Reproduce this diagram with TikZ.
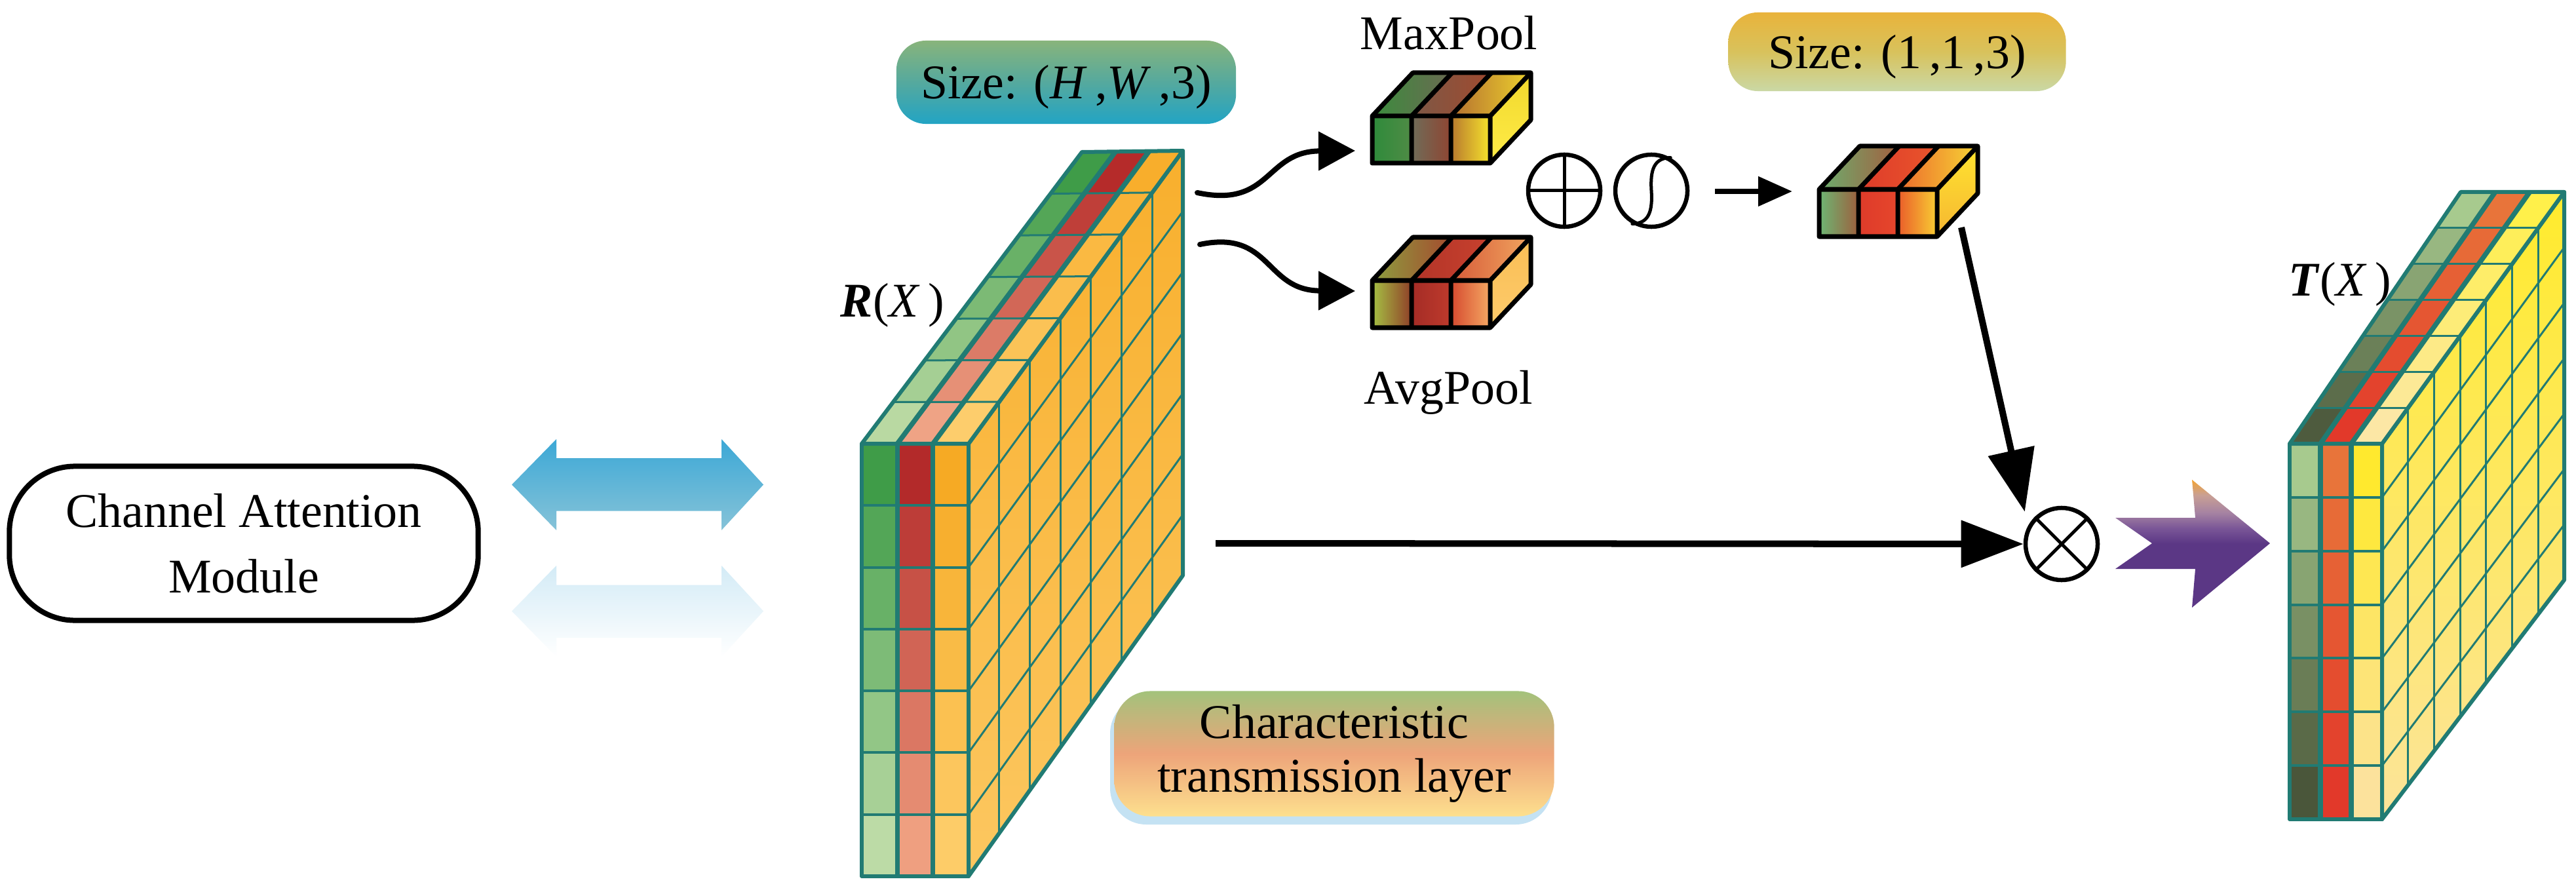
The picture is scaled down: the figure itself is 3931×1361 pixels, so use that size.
\documentclass[tikz,border=0pt]{standalone}
\usepackage{fontspec}
\setmainfont{Liberation Serif}
\usetikzlibrary{arrows.meta,calc}

\definecolor{tealL}{HTML}{217B73}
% left slab
\definecolor{Lf0t}{HTML}{3F9C48}\definecolor{Lf0b}{HTML}{BCDBA6}
\definecolor{Lf1t}{HTML}{B32A2A}\definecolor{Lf1b}{HTML}{EF9F80}
\definecolor{Lf2t}{HTML}{F6AA24}\definecolor{Lf2b}{HTML}{FDCC68}
\definecolor{Lt0f}{HTML}{B9D9A2}\definecolor{Lt0k}{HTML}{3F9C48}
\definecolor{Lt1f}{HTML}{EFA385}\definecolor{Lt1k}{HTML}{B52B2A}
\definecolor{Lt2f}{HTML}{FDCD6C}\definecolor{Lt2k}{HTML}{F8AE2C}
\definecolor{Lst}{HTML}{F8AF2D}\definecolor{Lsb}{HTML}{FCC760}
% right slab
\definecolor{Tf0t}{HTML}{A7CA8E}\definecolor{Tf0b}{HTML}{4A563A}
\definecolor{Tf1t}{HTML}{E8743A}\definecolor{Tf1b}{HTML}{E2392A}
\definecolor{Tf2t}{HTML}{FFE92E}\definecolor{Tf2b}{HTML}{FCE29C}
\definecolor{Tt0f}{HTML}{4E5B3E}\definecolor{Tt0k}{HTML}{A7CA8E}
\definecolor{Tt1f}{HTML}{E2392A}\definecolor{Tt1k}{HTML}{E8743A}
\definecolor{Tt2f}{HTML}{FCE7A5}\definecolor{Tt2k}{HTML}{FFF04A}
\definecolor{Tst}{HTML}{FFEB2C}\definecolor{Tsb}{HTML}{FCE49A}
% MaxPool cube
\definecolor{MPa1}{HTML}{2E8B3B}\definecolor{MPa2}{HTML}{4F8B45}
\definecolor{MPb1}{HTML}{6F6C58}\definecolor{MPb2}{HTML}{8F4532}
\definecolor{MPc1}{HTML}{B8782E}\definecolor{MPc2}{HTML}{F6E42C}
\definecolor{MPta1}{HTML}{3B8C3D}\definecolor{MPta2}{HTML}{6B6A52}
\definecolor{MPtb1}{HTML}{7D5846}\definecolor{MPtb2}{HTML}{A04A2F}
\definecolor{MPtc1}{HTML}{B5702F}\definecolor{MPtc2}{HTML}{EDD22E}
\definecolor{MPs1}{HTML}{F1D82C}\definecolor{MPs2}{HTML}{FFEC48}
% AvgPool cube
\definecolor{APa1}{HTML}{A6C144}\definecolor{APa2}{HTML}{8F3F28}
\definecolor{APb1}{HTML}{A42C26}\definecolor{APb2}{HTML}{BE3A2C}
\definecolor{APc1}{HTML}{D54A2F}\definecolor{APc2}{HTML}{F5A863}
\definecolor{APta1}{HTML}{8C9F3F}\definecolor{APta2}{HTML}{A54A2E}
\definecolor{APtb1}{HTML}{B23428}\definecolor{APtb2}{HTML}{C8412E}
\definecolor{APtc1}{HTML}{D65B39}\definecolor{APtc2}{HTML}{F1A55F}
\definecolor{APs1}{HTML}{FABE55}\definecolor{APs2}{HTML}{FDCB6B}
% result cube
\definecolor{RSa1}{HTML}{6DB774}\definecolor{RSa2}{HTML}{9D5F3D}
\definecolor{RSb1}{HTML}{DE3B2A}\definecolor{RSb2}{HTML}{E6462C}
\definecolor{RSc1}{HTML}{EA5C2A}\definecolor{RSc2}{HTML}{F9CE33}
\definecolor{RSta1}{HTML}{6CAE6E}\definecolor{RSta2}{HTML}{A35F3F}
\definecolor{RStb1}{HTML}{DE3C2A}\definecolor{RStb2}{HTML}{E9552C}
\definecolor{RStc1}{HTML}{EC6B2C}\definecolor{RStc2}{HTML}{F7D435}
\definecolor{RSs1}{HTML}{FFE52F}\definecolor{RSs2}{HTML}{F6B632}
% boxes and arrows
\definecolor{szAt}{HTML}{88B47B}\definecolor{szAm}{HTML}{55A99E}\definecolor{szAb}{HTML}{22A4C4}
\definecolor{szBt}{HTML}{E9B33B}\definecolor{szBm}{HTML}{D8C25C}\definecolor{szBb}{HTML}{CAD8A5}
\definecolor{chT}{HTML}{A3C27B}\definecolor{chM}{HTML}{EDA47A}\definecolor{chB}{HTML}{FDE08E}
\definecolor{chGlow}{HTML}{C4E2F3}
\definecolor{blT}{HTML}{3CA8D6}\definecolor{blB}{HTML}{86C3D8}
\definecolor{rfT}{HTML}{D3EBF6}
\definecolor{purB}{HTML}{5B3785}\definecolor{purC}{HTML}{7A5697}
\definecolor{purD}{HTML}{A582A2}\definecolor{purE}{HTML}{C9A094}
\definecolor{purT}{HTML}{F3A332}

\pgfdeclareverticalshading{purpsh}{100bp}{color(0bp)=(purB); color(50bp)=(purB); color(56bp)=(purC); color(62bp)=(purD); color(69bp)=(purE); color(75bp)=(purT); color(100bp)=(purT)}

\tikzset{
 gridthin/.style={draw=tealL,line width=0.03cm},
 gridrow/.style={draw=tealL,line width=0.04cm},
 gridsep/.style={draw=tealL,line width=0.075cm},
 gridout/.style={draw=tealL,line width=0.06cm,line join=round},
 cubeline/.style={draw=black,line width=0.07cm,line join=round},
 bigarr/.style={draw=black,line width=0.1cm,-{Triangle[length=0.95cm,width=0.7cm]}},
 curvarr/.style={draw=black,line width=0.08cm,line cap=round,-{Triangle[length=0.56cm,width=0.58cm]}},
 smallarr/.style={draw=black,line width=0.08cm,-{Triangle[length=0.52cm,width=0.44cm]}},
 opcirc/.style={circle,draw=black,line width=0.065cm,minimum size=1.1cm,inner sep=0pt},
 opline/.style={line width=0.05cm},
 lbl/.style={inner sep=0pt,anchor=base},
 szbox/.style={rounded corners=0.45cm,inner sep=0pt,text height=0.64cm,text depth=0.14cm},
}

\newcommand{\drawslab}[1]{%
 \foreach \i in {0,1,2,3}{%
  \coordinate (#1-fe-\i) at ($(#1-ftl)!\i/3!(#1-ftr)$);
  \coordinate (#1-be-\i) at ($(#1-btl)!\i/3!(#1-btr)$);
  \coordinate (#1-bf-\i) at ($(#1-fbl)!\i/3!(#1-fbr)$);
 }
 \foreach \i in {0,1,2,3}{\foreach \k in {0,...,7}{%
  \coordinate (#1-t-\i-\k) at ($(#1-fe-\i)!\k/7!(#1-be-\i)$);
  \coordinate (#1-f-\i-\k) at ($(#1-fe-\i)!\k/7!(#1-bf-\i)$);
 }}
 \shade[top color=#1st,bottom color=#1sb] (#1-ftr) -- (#1-btr) -- (#1-bbr) -- (#1-fbr) -- cycle;
 \foreach \k in {1,...,6}{\draw[gridthin] ($(#1-ftr)!\k/7!(#1-btr)$) -- ($(#1-fbr)!\k/7!(#1-bbr)$);}
 \foreach \k in {1,...,6}{\draw[gridthin] ($(#1-ftr)!\k/7!(#1-fbr)$) -- ($(#1-btr)!\k/7!(#1-bbr)$);}
 \draw[gridout] (#1-ftr) -- (#1-btr) -- (#1-bbr) -- (#1-fbr) -- cycle;
 \foreach \i [evaluate=\i as \ii using int(\i+1)] in {0,1,2}{%
  \foreach \k [evaluate=\k as \kk using int(\k+1), evaluate=\k as \pc using int(100*\k/6)] in {0,...,6}{%
   \colorlet{cellc}{#1t\i k!\pc!#1t\i f}%
   \fill[cellc] (#1-t-\i-\k) -- (#1-t-\ii-\k) -- (#1-t-\ii-\kk) -- (#1-t-\i-\kk) -- cycle;
  }}
 \foreach \i [evaluate=\i as \ii using int(\i+1)] in {0,1,2}{%
  \foreach \k [evaluate=\k as \kk using int(\k+1), evaluate=\k as \pc using int(100*\k/6)] in {0,...,6}{%
   \colorlet{cellc}{#1f\i b!\pc!#1f\i t}%
   \fill[cellc] (#1-f-\i-\k) -- (#1-f-\ii-\k) -- (#1-f-\ii-\kk) -- (#1-f-\i-\kk) -- cycle;
  }}
 \foreach \k in {1,...,6}{\draw[gridthin] (#1-t-0-\k) -- (#1-t-3-\k);}
 \foreach \i in {1,2}{\draw[gridsep] (#1-fe-\i) -- (#1-be-\i);}
 \draw[gridout] (#1-ftl) -- (#1-ftr) -- (#1-btr) -- (#1-btl) -- cycle;
 \foreach \k in {1,...,6}{\draw[gridrow] (#1-f-0-\k) -- (#1-f-3-\k);}
 \foreach \i in {1,2}{\draw[gridsep] (#1-fe-\i) -- (#1-bf-\i);}
 \draw[gridout] (#1-ftl) -- (#1-ftr) -- (#1-fbr) -- (#1-fbl) -- cycle;
}

\newcommand{\drawcube}[1]{%
 \coordinate (#1-ftr) at ($(#1-ftl)+(180,0)$);
 \coordinate (#1-fbl) at ($(#1-ftl)+(0,72)$);
 \coordinate (#1-fbr) at ($(#1-ftl)+(180,72)$);
 \coordinate (#1-btl) at ($(#1-ftl)+(62,-66)$);
 \coordinate (#1-btr) at ($(#1-ftr)+(62,-66)$);
 \coordinate (#1-bbr) at ($(#1-fbr)+(62,-66)$);
 \shade[top color=#1s1,bottom color=#1s2] (#1-ftr) -- (#1-btr) -- (#1-bbr) -- (#1-fbr) -- cycle;
 \foreach \i/\q [evaluate=\i as \ii using \i+1] in {0/a,1/b,2/c}{%
  \shade[left color=#1t\q1,right color=#1t\q2] ($(#1-ftl)!\i/3!(#1-ftr)$) -- ($(#1-ftl)!\ii/3!(#1-ftr)$) -- ($(#1-btl)!\ii/3!(#1-btr)$) -- ($(#1-btl)!\i/3!(#1-btr)$) -- cycle;
  \shade[left color=#1\q1,right color=#1\q2] ($(#1-ftl)!\i/3!(#1-ftr)$) rectangle ($(#1-fbl)!\ii/3!(#1-fbr)$);
 }
 \foreach \i in {1,2}{%
  \draw[cubeline] ($(#1-btl)!\i/3!(#1-btr)$) -- ($(#1-ftl)!\i/3!(#1-ftr)$) -- ($(#1-fbl)!\i/3!(#1-fbr)$);
 }
 \draw[cubeline] (#1-ftl) -- (#1-btl) -- (#1-btr) -- (#1-bbr) -- (#1-fbr) -- (#1-fbl) -- cycle;
 \draw[cubeline] (#1-ftl) -- (#1-ftr) -- (#1-fbr) (#1-ftr) -- (#1-btr);
}

\begin{document}
\begin{tikzpicture}[x=0.01cm,y=-0.01cm,font=\fontsize{21}{28.45}\selectfont]
\useasboundingbox (0,0) rectangle (3931,1361);
\fill[white] (0,0) rectangle (3931,1361);

% Channel attention module
\node[draw,line width=0.08cm,rounded corners=1cm,minimum width=7.15cm,minimum height=2.35cm,align=center,inner sep=0pt] (cam) at (372,829) {Channel Attention\\Module};

% blue double arrow and its reflection
\shade[top color=rfT,bottom color=white] (781,932.5) -- (849,863) -- (849,892.5) -- (1101,892.5) -- (1101,863) -- (1165,932.5) -- (1101,1002) -- (1101,973) -- (849,973) -- (849,1002) -- cycle;
\shade[top color=blT,bottom color=blB] (781,739.5) -- (849,670) -- (849,699) -- (1101,699) -- (1101,670) -- (1165,739.5) -- (1101,809) -- (1101,779.5) -- (849,779.5) -- (849,809) -- cycle;

% size boxes
\node[szbox,top color=szAt,bottom color=szAb,middle color=szAm,minimum width=5.18cm,minimum height=1.27cm] (sza) at (1627,125.5) {Size: (\textit{H}\,,\textit{W}\,,3)};
\node[szbox,top color=szBt,bottom color=szBb,middle color=szBm,minimum width=5.15cm,minimum height=1.2cm] (szb) at (2895,79) {Size: (1\,,1\,,3)};

% left slab R(X)
\coordinate (L-ftl) at (1315,677);
\coordinate (L-ftr) at (1478,677);
\coordinate (L-fbl) at (1315,1337);
\coordinate (L-fbr) at (1478,1337);
\coordinate (L-btl) at (1651,232);
\coordinate (L-btr) at (1805,230);
\coordinate (L-bbr) at (1805,878);
\drawslab{L}
\node[lbl] (rx) at (1362,483) {\textbf{\textit{R}}(\textit{X}\,)};

% right slab T(X)
\coordinate (T-ftl) at (3494,677);
\coordinate (T-ftr) at (3635,677);
\coordinate (T-fbl) at (3494,1250);
\coordinate (T-fbr) at (3635,1250);
\coordinate (T-btl) at (3755,293);
\coordinate (T-btr) at (3913,293);
\coordinate (T-bbr) at (3913,885);
\drawslab{T}
\node[lbl] (tx) at (3571,452) {\textbf{\textit{T}}(\textit{X}\,)};

% characteristic transmission layer
\fill[chGlow,rounded corners=0.55cm] (1694,1064) rectangle (2368,1258);
\node[rounded corners=0.55cm,top color=chT,bottom color=chB,middle color=chM,minimum width=6.71cm,minimum height=1.91cm,align=center,inner sep=0pt,font=\fontsize{21}{23.5}\selectfont] (ctl) at (2036,1150) {Characteristic\\transmission layer};

% pooling cubes
\coordinate (MP-ftl) at (2094,177);
\drawcube{MP}
\coordinate (AP-ftl) at (2094,428);
\drawcube{AP}
\coordinate (RS-ftl) at (2776,289);
\drawcube{RS}
\node[lbl] (mpl) at (2211,76) {MaxPool};
\node[lbl] (apl) at (2210,616) {AvgPool};

% curved arrows
\coordinate (c1s) at (1827,294);
\coordinate (c1e) at (2068,230);
\coordinate (c2s) at (1831,373);
\coordinate (c2e) at (2068,444);
\draw[curvarr] (c1s) .. controls (1940,318) and (1930,231) .. (c1e);
\draw[curvarr] (c2s) .. controls (1940,350) and (1930,443) .. (c2e);

% operators
\node[opcirc] (plus) at (2387,291) {};
\draw[opline] (plus.north) -- (plus.south) (plus.west) -- (plus.east);
\node[opcirc] (sg) at (2520,291) {};
\draw[opline,line cap=round] (sg.240) .. controls ($(sg.center)+(-4,50)$) and ($(sg.center)+(2,32)$) .. (sg.center) .. controls ($(sg.center)+(-2,-32)$) and ($(sg.center)+(4,-50)$) .. (sg.60);
\node[opcirc] (ot) at (3146,830) {};
\draw[opline] (ot.north west) -- (ot.south east) (ot.north east) -- (ot.south west);

% small arrow
\coordinate (sa1) at (2617,292);
\coordinate (sa2) at (2735,292);
\draw[smallarr] (sa1) -- (sa2);

% big arrows
\coordinate (ds) at (2993,347);
\draw[bigarr] (ds) -- ([shift={(-15,-8)}]ot.north west);
\coordinate (hs) at (1855,829);
\draw[bigarr] (hs) -- (ot.west);

% purple arrow
\shade[shading=purpsh] (3228,790) -- (3350,790) -- (3345,732) -- (3464,829) -- (3345,927) -- (3350,868) -- (3228,868) -- (3284,829) -- cycle;

\end{tikzpicture}
\end{document}
